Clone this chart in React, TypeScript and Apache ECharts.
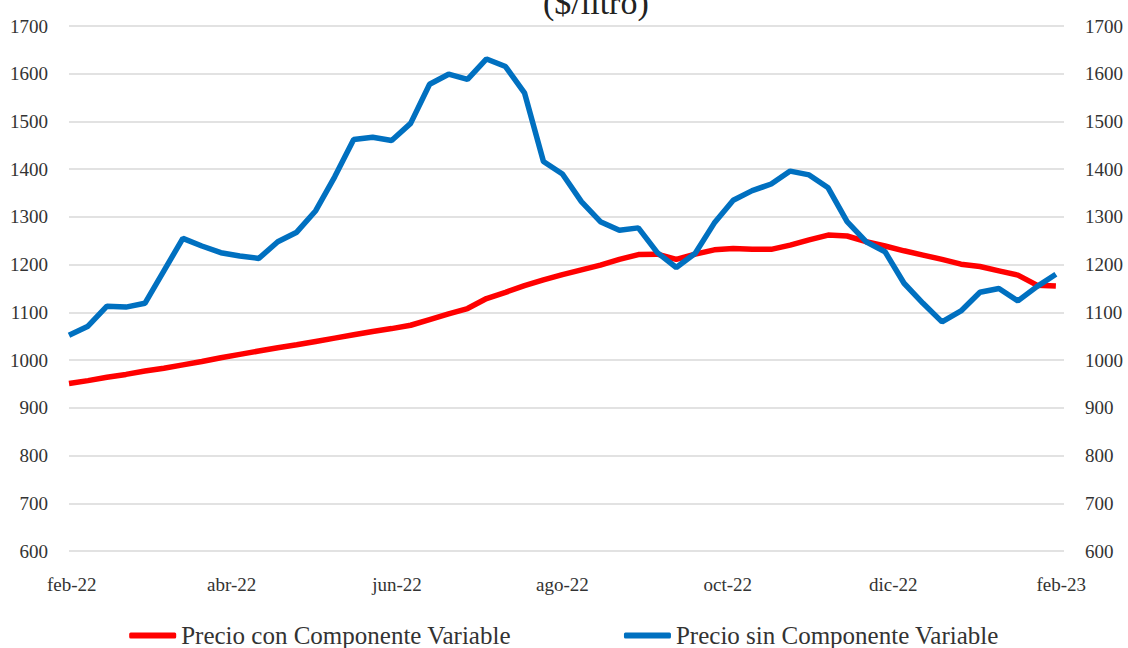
import React, { useEffect, useRef } from 'react';
import * as echarts from 'echarts';

const fechas = [
  '2022-01-31', '2022-02-07', '2022-02-14', '2022-02-21', '2022-02-28', '2022-03-07', '2022-03-14', '2022-03-21', '2022-03-28',
  '2022-04-04', '2022-04-11', '2022-04-18', '2022-04-25', '2022-05-02', '2022-05-09', '2022-05-16', '2022-05-23', '2022-05-30',
  '2022-06-06', '2022-06-13', '2022-06-20', '2022-06-27', '2022-07-04', '2022-07-11', '2022-07-18', '2022-07-25', '2022-08-01',
  '2022-08-08', '2022-08-15', '2022-08-22', '2022-08-29', '2022-09-05', '2022-09-12', '2022-09-19', '2022-09-26', '2022-10-03',
  '2022-10-10', '2022-10-17', '2022-10-24', '2022-10-31', '2022-11-07', '2022-11-14', '2022-11-21', '2022-11-28', '2022-12-05',
  '2022-12-12', '2022-12-19', '2022-12-26', '2023-01-02', '2023-01-09', '2023-01-16', '2023-01-23', '2023-01-30',
];

const precioConComponente = [
  951, 957, 964, 970, 977, 983, 990, 997, 1005, 1012,
  1019, 1026, 1032, 1039, 1046, 1053, 1060, 1066, 1073, 1085,
  1097, 1108, 1129, 1142, 1156, 1168, 1179, 1189, 1199, 1211,
  1221, 1222, 1211, 1222, 1231, 1234, 1232, 1232, 1241, 1252,
  1262, 1260, 1248, 1239, 1229, 1220, 1211, 1201, 1196, 1187,
  1178, 1157, 1155,
];

const precioSinComponente = [
  1052, 1071, 1113, 1111, 1119, 1187, 1255, 1239, 1225, 1218,
  1213, 1248, 1268, 1313, 1384, 1462, 1467, 1460, 1496, 1578,
  1599, 1588, 1631, 1615, 1560, 1416, 1390, 1332, 1290, 1272,
  1277, 1225, 1194, 1224, 1287, 1335, 1355, 1369, 1396, 1388,
  1361, 1290, 1248, 1227, 1161, 1119, 1080, 1103, 1142, 1150,
  1124, 1154, 1180,
];

const etiquetasX = ['2022-02-01', '2022-04-01', '2022-06-01', '2022-08-01', '2022-10-01', '2022-12-01', '2023-02-01'];
const meses = ['ene', 'feb', 'mar', 'abr', 'may', 'jun', 'jul', 'ago', 'sep', 'oct', 'nov', 'dic'];
const ejeXMin = '2022-01-31';
const ejeXMax = '2023-02-02';
const ejeYMin = 600;
const ejeYMax = 1700;
const ejeYIntervalo = 100;

const serieNombres = ['Precio con Componente Variable', 'Precio sin Componente Variable'];
const titulo = '($/litro)';

const DAY = 86400000;
// days since 1970-01-01 (UTC based, so no timezone drift)
const parse = (s: string) => {
  const [y, m, d] = s.split('-').map(Number);
  return Date.UTC(y, m - 1, d) / DAY;
};

const FONT = 'Liberation Serif';

export default function App() {
  const ref = useRef<HTMLDivElement>(null);

  useEffect(() => {
    if (!ref.current) return;
    const chart = echarts.init(ref.current, null, { renderer: 'svg' });
    const yAxisBase = {
      type: 'value',
      min: ejeYMin,
      max: ejeYMax,
      interval: ejeYIntervalo,
      axisLine: { show: false },
      axisTick: { show: false },
      axisLabel: {
        formatter: (v: number) => String(v),
        fontSize: 19,
        fontFamily: FONT,
        color: '#333',
        margin: 21,
      },
    };
    chart.setOption({
      animation: false,
      backgroundColor: '#fff',
      textStyle: { fontFamily: FONT },
      title: {
        text: titulo,
        left: 538,
        top: -20,
        textStyle: { fontSize: 34, fontWeight: 'normal', fontFamily: FONT, color: '#222' },
      },
      legend: {
        data: serieNombres,
        left: 'center',
        top: 618,
        itemWidth: 47,
        itemHeight: 6,
        itemGap: 113,
        icon: 'roundRect',
        textStyle: { fontSize: 25, fontFamily: FONT, color: '#333' },
      },
      grid: { left: 69, right: 64, top: 26, bottom: 97, containLabel: false },
      xAxis: {
        type: 'value',
        min: parse(ejeXMin),
        max: parse(ejeXMax),
        axisLine: { show: false },
        axisTick: { show: false },
        splitLine: { show: false },
        axisLabel: {
          customValues: etiquetasX.map(parse),
          formatter: (v: number) => {
            const d = new Date(Math.round(v) * DAY);
            return meses[d.getUTCMonth()] + '-' + String(d.getUTCFullYear()).slice(2);
          },
          fontSize: 19,
          fontFamily: FONT,
          color: '#333',
          margin: 24,
          hideOverlap: false,
          showMinLabel: true,
          showMaxLabel: true,
        },
      },
      yAxis: [
        {
          ...yAxisBase,
          position: 'left',
          splitLine: { show: true, lineStyle: { color: '#d9d9d9', width: 1.5 } },
        },
        {
          ...yAxisBase,
          position: 'right',
          splitLine: { show: false },
        },
      ],
      series: [
        {
          name: serieNombres[0],
          type: 'line',
          showSymbol: false,
          clip: false,
          data: fechas.map((f, i) => [parse(f), precioConComponente[i]]),
          lineStyle: { width: 5.5, color: '#FF0000' },
          itemStyle: { color: '#FF0000' },
        },
        {
          name: serieNombres[1],
          type: 'line',
          showSymbol: false,
          clip: false,
          data: fechas.map((f, i) => [parse(f), precioSinComponente[i]]),
          lineStyle: { width: 5.5, color: '#0070C0' },
          itemStyle: { color: '#0070C0' },
        },
      ],
    });
    return () => chart.dispose();
  }, []);

  return (
    <div
      ref={ref}
      style={{ position: 'fixed', left: 0, top: 0, width: 1128, height: 648, background: '#fff' }}
    />
  );
}
